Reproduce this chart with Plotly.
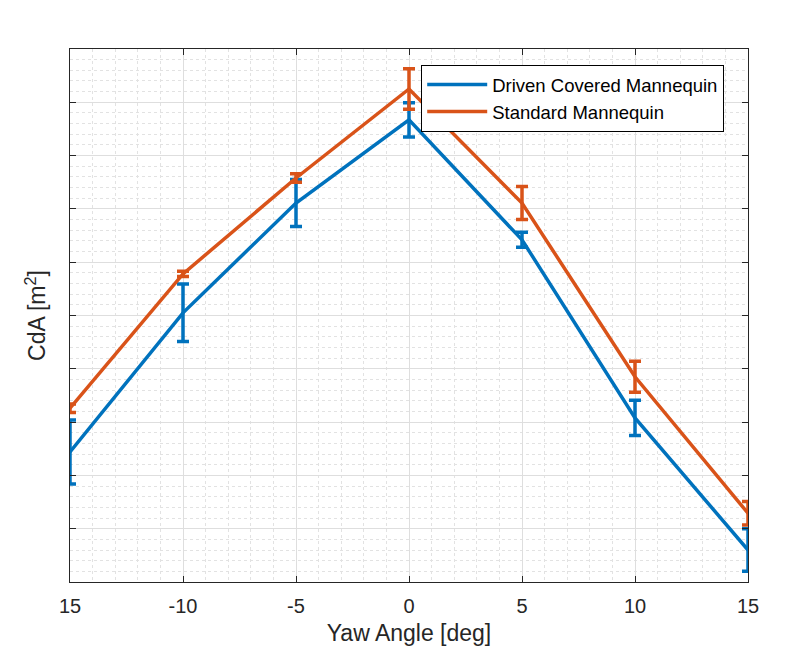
import plotly.graph_objects as go

yaw = [-15, -10, -5, 0, 5, 10, 15]
tick_labels = ["15", "-10", "-5", "0", "5", "10", "15"]

driven_cda = [2.44, 5.05, 7.11, 8.67, 6.42, 3.08, 0.60]
driven_err = [0.60, 0.54, 0.44, 0.32, 0.14, 0.33, 0.40]

standard_cda = [3.26, 5.78, 7.58, 9.25, 7.11, 3.85, 1.29]
standard_err = [0.08, 0.05, 0.08, 0.38, 0.31, 0.29, 0.22]

blue = "#0072BD"
orange = "#D95319"
axc = "#262626"

fig = go.Figure()
fig.add_trace(go.Scatter(
    x=yaw, y=driven_cda, mode="lines", name="Driven Covered Mannequin",
    line=dict(color=blue, width=3.5),
    error_y=dict(type="data", array=driven_err, visible=True, color=blue, thickness=3.5, width=6),
))
fig.add_trace(go.Scatter(
    x=yaw, y=standard_cda, mode="lines", name="Standard Mannequin",
    line=dict(color=orange, width=3.5),
    error_y=dict(type="data", array=standard_err, visible=True, color=orange, thickness=3.5, width=6),
))

fig.update_layout(
    width=795, height=656,
    margin=dict(l=70, r=47, t=49, b=74),
    paper_bgcolor="white", plot_bgcolor="white",
    font=dict(family="Liberation Sans, Arial, sans-serif", size=20, color=axc),
    showlegend=True,
    legend=dict(
        x=0.518, y=0.97, xanchor="left", yanchor="top",
        bgcolor="white", bordercolor="#000000", borderwidth=1,
        font=dict(size=18.5, color="#000000"),
        itemwidth=60, tracegroupgap=0,
    ),
)

fig.update_xaxes(
    range=[-15, 15], tickvals=yaw, ticktext=tick_labels,
    showline=True, linecolor=axc, linewidth=1.2, mirror="ticks",
    ticks="inside", ticklen=6, tickcolor=axc,
    showgrid=True, gridcolor="#dedede", gridwidth=1,
    zeroline=False,
    minor=dict(dtick=1, showgrid=True, gridcolor="#e2e2e2", griddash="dot", gridwidth=1, ticks=""),
    title=dict(text="Yaw Angle [deg]", font=dict(size=23, color=axc), standoff=8),
    tickfont=dict(size=20, color=axc),
    ticklabelstandoff=6,
)
fig.update_yaxes(
    range=[0, 10], dtick=1, showticklabels=False,
    showline=True, linecolor=axc, linewidth=1.2, mirror="ticks",
    ticks="inside", ticklen=6, tickcolor=axc,
    showgrid=True, gridcolor="#dedede", gridwidth=1,
    zeroline=False,
    minor=dict(dtick=0.2, showgrid=True, gridcolor="#e2e2e2", griddash="dot", gridwidth=1, ticks=""),
    title=dict(text="CdA [m<sup>2</sup>]", font=dict(size=23, color=axc), standoff=16),
)

fig.write_html("out.html")
